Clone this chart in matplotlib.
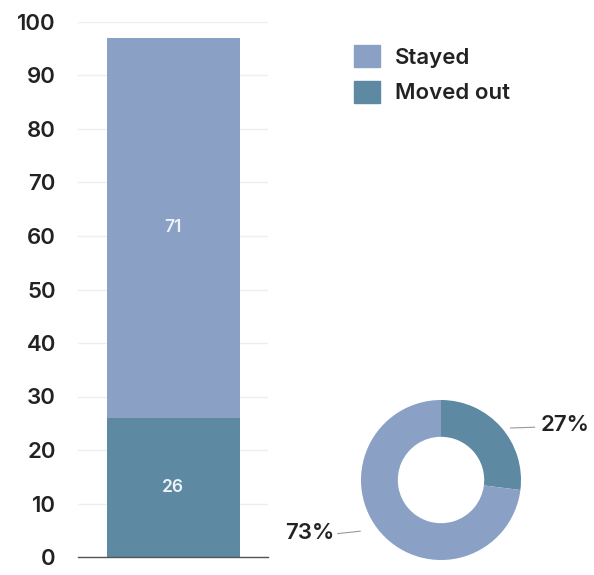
import numpy as np
import matplotlib
matplotlib.use('Agg')
import matplotlib.pyplot as plt

# data
categories = ['Stayed', 'Moved out']
values = [71, 26]
shares = [73, 27]
colors = ['#8aa0c4', '#5e89a3']
yticks = list(range(0, 101, 10))

plt.rcParams['font.family'] = ['Inter', 'DejaVu Sans']
txt = '#222222'
W = 600
FS = 16

fig = plt.figure(figsize=(5.94, 5.75), dpi=100)

# stacked bar
ax = fig.add_axes([78/594, 18/575, 190/594, 535/575])
ax.bar(0, values[1], width=0.7, color=colors[1], zorder=2)
ax.bar(0, values[0], width=0.7, bottom=values[1], color=colors[0], zorder=2)
ax.text(0, values[1] + values[0]/2, str(values[0]), ha='center', va='center',
        color='#eef2f8', fontsize=12.5, fontweight=W)
ax.text(0, values[1]/2, str(values[1]), ha='center', va='center',
        color='#eef2f8', fontsize=12.5, fontweight=W)
ax.set_xlim(-0.5, 0.5)
ax.set_ylim(0, 100)
ax.set_yticks(yticks)
ax.set_xticks([])
ax.tick_params(axis='y', length=0, pad=16, labelsize=FS, labelcolor=txt)
for lab in ax.get_yticklabels():
    lab.set_fontweight(W)
ax.grid(axis='y', color='#eeeeee', linewidth=1, zorder=0)
for s in ['top', 'right', 'left']:
    ax.spines[s].set_visible(False)
ax.spines['bottom'].set_color('#555555')
ax.spines['bottom'].set_linewidth(1)

# legend
handles = [plt.Rectangle((0, 0), 1, 1, color=c) for c in colors]
fig.legend(handles, categories, loc='upper left', bbox_to_anchor=(334/594, 1 - 25/575),
           frameon=False, handlelength=1.15, handleheight=1.15,
           labelspacing=0.6, handletextpad=0.7, labelcolor=txt,
           prop={'size': FS, 'weight': W})

# donut
r = 80
ax2 = fig.add_axes([(441 - r)/594, (575 - 480 - r)/575, 2*r/594, 2*r/575])
ax2.pie([shares[1], shares[0]], colors=[colors[1], colors[0]], startangle=90,
        counterclock=False, radius=1, wedgeprops=dict(width=0.46, linewidth=0))
ax2.set_xlim(-1, 1)
ax2.set_ylim(-1, 1)
ax2.set_aspect('equal')
ax2.plot([0.87, 1.17], [0.65, 0.66], color='#999999', lw=0.8, clip_on=False)
ax2.text(1.24, 0.69, f'{shares[1]}%', ha='left', va='center', fontsize=FS,
         color=txt, fontweight=W)
ax2.plot([-1.29, -1.01], [-0.67, -0.64], color='#999999', lw=0.8, clip_on=False)
ax2.text(-1.33, -0.66, f'{shares[0]}%', ha='right', va='center', fontsize=FS,
         color=txt, fontweight=W)

fig.savefig('out.png', dpi=100)
